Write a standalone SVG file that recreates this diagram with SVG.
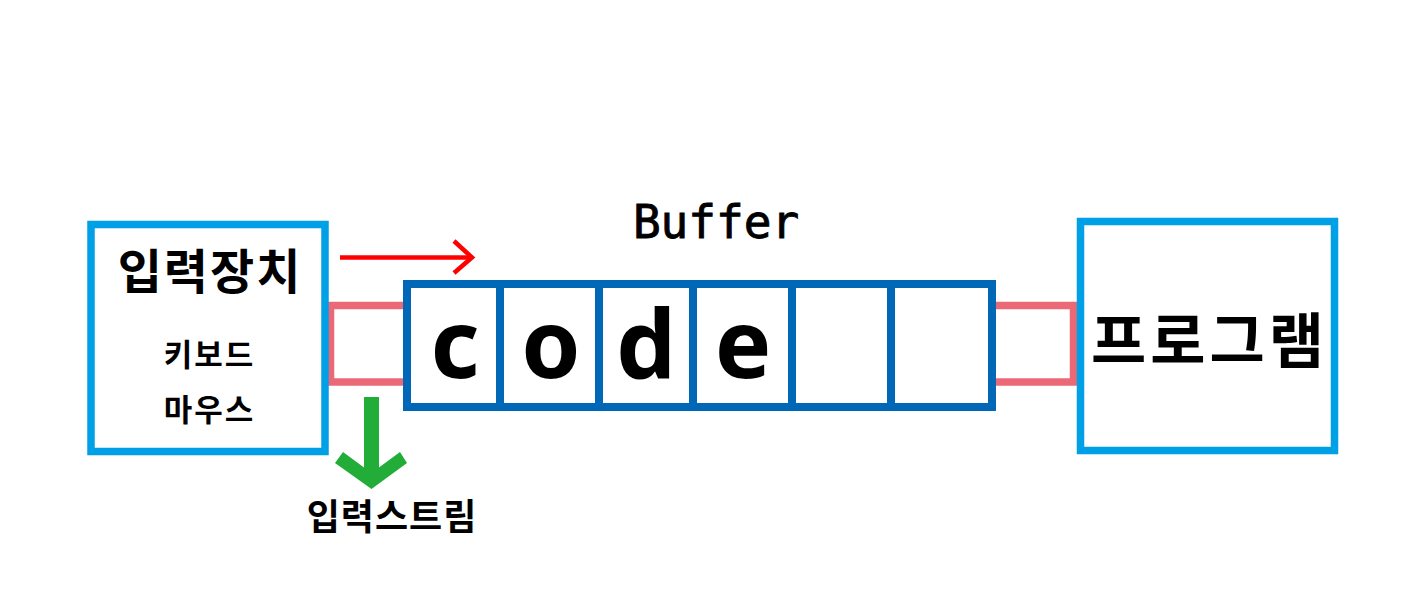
<svg xmlns="http://www.w3.org/2000/svg" width="1424" height="614" viewBox="0 0 1424 614">
<style>
.box{fill:#fff;stroke:#00A0E6;stroke-width:7.5}
.pink{fill:none;stroke:#EB6877;stroke-width:7.5}
.buf{fill:#fff;stroke:#0068B7;stroke-width:8}
.div{stroke:#0068B7;stroke-width:8}
.kr{font-family:"Noto Sans CJK KR","Noto Sans",sans-serif;font-weight:bold;fill:#000;text-anchor:middle}
.ch{font-family:"Noto Sans","DejaVu Sans",sans-serif;font-weight:bold;font-size:95px;fill:#000;text-anchor:middle}
.mono{font-family:"DejaVu Sans Mono","Liberation Mono",monospace;font-size:46px;fill:#000;stroke:#000;stroke-width:0.9;text-anchor:middle}
</style>
<rect width="1424" height="614" fill="#fff"/>
<g id="connectors">
<rect class="pink" x="330.5" y="305.5" width="80" height="76.5"/>
<rect class="pink" x="990" y="305.5" width="83.5" height="76.5"/>
<g id="red-arrow" fill="none" stroke="#FF0000" stroke-width="4.5">
<line x1="340" y1="257.5" x2="472" y2="257.5"/>
<polyline points="454,241 472,257.5 454,273"/>
</g>
<g id="green-arrow" fill="#22AC38">
<rect x="364" y="397" width="15" height="80"/>
<polygon points="335,463 343,452 371.5,473 400,452 407,463 371.5,489"/>
</g>
</g>
<g id="input-device">
<rect class="box" x="91" y="224.5" width="234" height="227"/>
<text class="kr" x="210" y="289" font-size="48" letter-spacing="2">입력장치</text>
<text class="kr" x="209.5" y="366" font-size="31" letter-spacing="2">키보드</text>
<text class="kr" x="209.5" y="421" font-size="31" letter-spacing="2">마우스</text>
</g>
<g id="buffer">
<text class="mono" x="716" y="238">Buffer</text>
<rect class="buf" x="407" y="284" width="585" height="123"/>
<line class="div" x1="500" y1="284" x2="500" y2="407"/>
<line class="div" x1="599" y1="284" x2="599" y2="407"/>
<line class="div" x1="693" y1="284" x2="693" y2="407"/>
<line class="div" x1="792" y1="284" x2="792" y2="407"/>
<line class="div" x1="891" y1="284" x2="891" y2="407"/>
<text class="ch" x="455" y="378">c</text>
<text class="ch" x="551" y="378">o</text>
<text class="ch" x="646" y="378">d</text>
<text class="ch" x="743" y="378">e</text>
</g>
<g id="program">
<rect class="box" x="1080.5" y="221.5" width="254" height="229"/>
<text class="kr" x="1209.5" y="363" font-size="60" letter-spacing="4">프로그램</text>
</g>
<g id="input-stream">
<text class="kr" x="392" y="530" font-size="36" letter-spacing="1">입력스트림</text>
</g>
</svg>
